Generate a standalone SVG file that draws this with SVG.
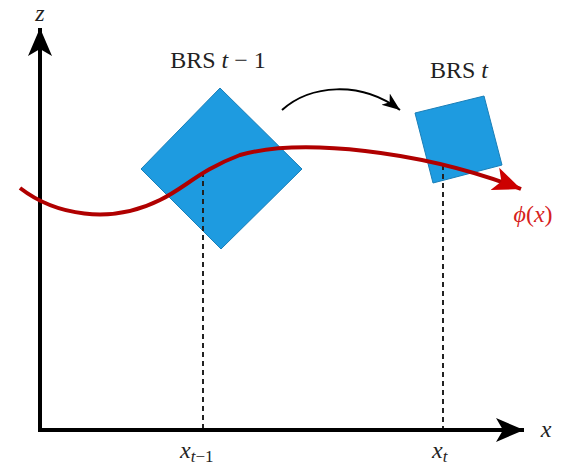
<svg xmlns="http://www.w3.org/2000/svg" width="572" height="471" viewBox="0 0 572 471">
<style>
.lbl{font-family:"Liberation Serif","DejaVu Serif",serif;font-size:24px;fill:#222}
.it{font-style:italic}
.box{fill:#1e9be0;stroke:#1a7fb8;stroke-width:1}
.dash{stroke:#222;stroke-width:2;stroke-dasharray:5,4;fill:none}
</style>
<defs>
<marker id="sm" viewBox="0 0 20 20" markerWidth="20" markerHeight="20" refX="18" refY="10" orient="auto" markerUnits="userSpaceOnUse"><path d="M0,3 L18,10 L0,17 L5,10 Z" fill="#000"/></marker>
<marker id="big" viewBox="0 0 30 30" markerWidth="30" markerHeight="30" refX="28" refY="15" orient="auto" markerUnits="userSpaceOnUse"><path d="M0,3 L28,15 L0,27 L7,15 Z" fill="#000"/></marker>
<marker id="red" viewBox="0 0 30 30" markerWidth="30" markerHeight="30" refX="28" refY="15" orient="auto" markerUnits="userSpaceOnUse"><path d="M0,3 L28,15 L0,27 L7,15 Z" fill="#c00"/></marker>
</defs>
<g id="node-brs-prev"><polygon class="box" points="220,88 302,169 221,249 141,169"/></g>
<g id="node-brs-t"><polygon class="box" points="415,113 484,96 502,165 433,183"/></g>
<g id="connectors">
<line class="dash" x1="203" y1="172" x2="203" y2="430"/>
<line class="dash" x1="443" y1="165" x2="443" y2="430"/>
<line x1="40" y1="432" x2="40" y2="28" stroke="#000" stroke-width="4" marker-end="url(#big)"/>
<line x1="38" y1="430" x2="524" y2="430" stroke="#000" stroke-width="4" marker-end="url(#big)"/>
<path d="M282,110 C310,85 360,80 400,110" fill="none" stroke="#000" stroke-width="2" marker-end="url(#sm)"/>
<path d="M20,188 C55,215 110,225 160,200 C185,188 200,170 240,155 C300,138 420,150 521,189" fill="none" stroke="#b00000" stroke-width="4" marker-end="url(#red)"/>
</g>
<text class="lbl" x="218" y="68" text-anchor="middle">BRS <tspan class="it">t</tspan> − 1</text>
<text class="lbl" x="459" y="78" text-anchor="middle">BRS <tspan class="it">t</tspan></text>
<text class="lbl it" x="40" y="21" text-anchor="middle">z</text>
<text class="lbl it" x="546" y="437" text-anchor="middle">x</text>
<text class="lbl" x="533" y="222" text-anchor="middle" style="fill:#d62020"><tspan class="it">ϕ</tspan>(<tspan class="it">x</tspan>)</text>
<text class="lbl it" x="180" y="458">x<tspan font-size="17" dy="4">t</tspan><tspan font-size="17" font-style="normal">−1</tspan></text>
<text class="lbl it" x="432" y="458">x<tspan font-size="17" dy="4">t</tspan></text>
</svg>
